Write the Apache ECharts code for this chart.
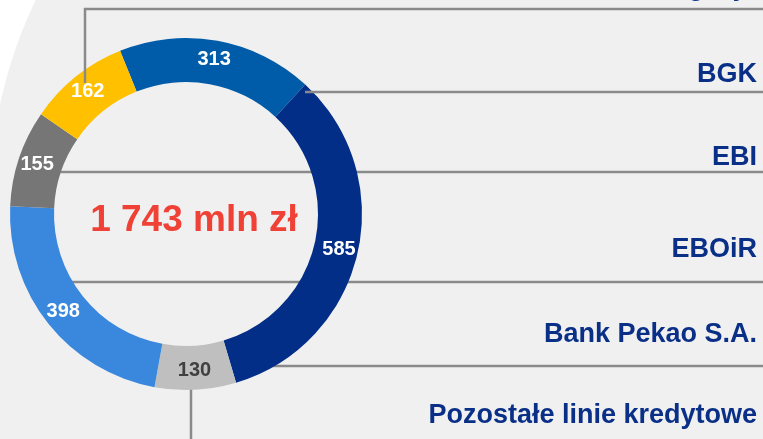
<!DOCTYPE html>
<html>
<head>
<meta charset="utf-8">
<script src="https://cdn.jsdelivr.net/npm/echarts@6/dist/echarts.min.js"></script>
<style>
  html, body { margin: 0; padding: 0; background: #ffffff; }
  #chart { width: 763px; height: 439px; }
</style>
</head>
<body>
<div id="chart"></div>
<script>
// dane
const names = ['BGK', 'Bank Pekao S.A.', 'Pozostałe linie kredytowe', 'EBOiR', 'EBI', 'Obligacje'];
const values = [313, 585, 130, 398, 155, 162];
const colors = ['#005ca9', '#032e87', '#bfbfbf', '#3a87de', '#767676', '#ffc000'];
const labelColors = ['#fff', '#fff', '#404040', '#fff', '#fff', '#fff'];
const totalText = '1 743 mln zł';

// etykiety po prawej stronie (tekst, srodek y)
const sideLabels = [
  ['Obligacje', -12],
  ['BGK', 75],
  ['EBI', 158],
  ['EBOiR', 250],
  ['Bank Pekao S.A.', 335],
  ['Pozostałe linie kredytowe', 416]
];

const chart = echarts.init(document.getElementById('chart'));
const font = '"Liberation Sans", Arial, sans-serif';
const lineStyle = { stroke: '#8a8a8a', lineWidth: 2.5 };

// jasne tlo z bialym rogiem (luk)
let corner = [[0, 0]];
for (let y = 0; y <= 112; y += 4) {
  corner.push([450 - Math.sqrt(460 * 460 - (y - 200) * (y - 200)), y]);
}
corner.push([0, 112]);

let graphics = [
  { type: 'rect', z: -10, shape: { x: 0, y: 0, width: 763, height: 439 }, style: { fill: '#f0f0f0' } },
  { type: 'polygon', z: -9, shape: { points: corner }, style: { fill: '#ffffff' } },
  // linie odniesienia
  { type: 'polyline', z: 10, shape: { points: [[85, 83], [85, 9], [763, 9]] }, style: lineStyle },
  { type: 'polyline', z: 10, shape: { points: [[305, 92], [763, 92]] }, style: lineStyle },
  { type: 'polyline', z: -1, shape: { points: [[40, 172], [763, 172]] }, style: lineStyle },
  { type: 'polyline', z: -1, shape: { points: [[40, 282], [763, 282]] }, style: lineStyle },
  { type: 'polyline', z: -1, shape: { points: [[260, 366], [763, 366]] }, style: lineStyle },
  { type: 'polyline', z: -1, shape: { points: [[191, 380], [191, 439]] }, style: lineStyle },
  {
    type: 'text', z: 20,
    style: {
      text: totalText, x: 194, y: 221, align: 'center', verticalAlign: 'middle',
      fill: '#ef4136', font: 'bold 37px ' + font
    }
  }
];

sideLabels.forEach(function (s) {
  graphics.push({
    type: 'text', z: 20,
    style: {
      text: s[0], x: 757, y: s[1], align: 'right', verticalAlign: 'middle',
      fill: '#0a2f87', font: 'bold 27px ' + font
    }
  });
});

chart.setOption({
  animation: false,
  graphic: graphics,
  series: [{
    type: 'pie',
    z: 2,
    silent: true,
    center: [186, 214],
    radius: [132, 176],
    startAngle: 112,
    clockwise: true,
    label: {
      show: true,
      position: 'inside',
      fontFamily: font,
      fontWeight: 'bold',
      fontSize: 20,
      formatter: '{c}'
    },
    labelLine: { show: false },
    itemStyle: { borderWidth: 0 },
    emphasis: { disabled: true },
    data: values.map(function (v, i) {
      return {
        name: names[i],
        value: v,
        itemStyle: { color: colors[i] },
        label: { color: labelColors[i] }
      };
    })
  }]
});
</script>
</body>
</html>
